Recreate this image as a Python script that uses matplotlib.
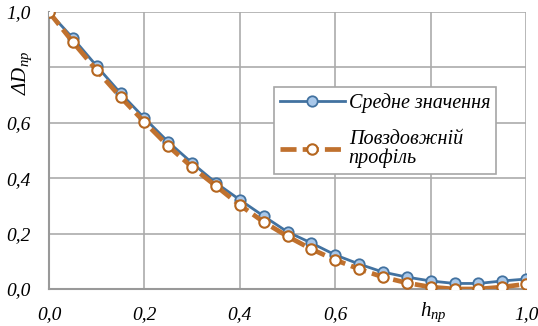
import matplotlib
matplotlib.use('Agg')
import matplotlib.pyplot as plt

h = [0.0, 0.05, 0.1, 0.15, 0.2, 0.25, 0.3, 0.35, 0.4, 0.45, 0.5,
     0.55, 0.6, 0.65, 0.7, 0.75, 0.8, 0.85, 0.9, 0.95, 1.0]
mean_vals = [1.0, 0.906, 0.805, 0.707, 0.617, 0.531, 0.455, 0.383, 0.322, 0.263, 0.206,
             0.166, 0.123, 0.09, 0.061, 0.043, 0.029, 0.02, 0.02, 0.029, 0.036]
profile_vals = [1.0, 0.892, 0.79, 0.693, 0.603, 0.516, 0.44, 0.372, 0.303, 0.242, 0.19,
                0.144, 0.105, 0.072, 0.043, 0.022, 0.007, 0.0, 0.0, 0.007, 0.018]
labels = ['Средне значення', 'Повздовжній\nпрофіль']
xticks = [0.0, 0.2, 0.4, 0.6, 0.8, 1.0]
yticks = [0.0, 0.2, 0.4, 0.6, 0.8, 1.0]

plt.rcParams['font.family'] = ['Liberation Serif', 'DejaVu Serif']
plt.rcParams['mathtext.fontset'] = 'custom'
plt.rcParams['mathtext.it'] = 'Liberation Serif:italic'
plt.rcParams['mathtext.rm'] = 'Liberation Serif:italic'

BLUE = '#4272A0'
BLUE_FACE = '#A9C8EA'
ORANGE = '#C0712E'
GRID = '#ABABAB'

fig = plt.figure(figsize=(5.38, 3.26), dpi=100)
ax = fig.add_axes([0.091, 0.1135, 0.887, 0.8495])

ax.plot(h, mean_vals, color=BLUE, linewidth=2, marker='o', markersize=7.5,
        markerfacecolor=BLUE_FACE, markeredgecolor=BLUE, markeredgewidth=1.3,
        label=labels[0], zorder=3)
ax.plot(h, profile_vals, color=ORANGE, linewidth=3.4, linestyle=(0, (3.4, 1.3)),
        marker='o', markersize=7.5, markerfacecolor='white', markeredgecolor='#B5661F',
        markeredgewidth=1.5, label=labels[1], zorder=4)

ax.set_xlim(0, 1.0)
ax.set_ylim(0, 1.0)
ax.set_xticks(xticks)
ax.set_yticks(yticks)
ax.set_xticklabels(['' if t == 0.8 else f'{t:.1f}'.replace('.', ',') for t in xticks],
                   fontstyle='italic', fontsize=14)
ax.set_yticklabels(['' if t == 0.8 else f'{t:.1f}'.replace('.', ',') for t in yticks],
                   fontstyle='italic', fontsize=14)
ax.tick_params(length=0)
ax.tick_params(axis='y', pad=13)
ax.tick_params(axis='x', pad=12)
ax.grid(True, color=GRID, linewidth=1.2)
ax.set_axisbelow(True)
for side in ['top', 'right']:
    ax.spines[side].set_visible(False)
for side in ['left', 'bottom']:
    ax.spines[side].set_color('#999999')
    ax.spines[side].set_linewidth(1.5)

ax.text(-0.057, 0.78, r'$ΔD_{np}$', transform=ax.transAxes, rotation=90,
        ha='center', va='center', fontsize=15)
ax.text(0.805, -0.085, r'$h_{np}$', transform=ax.transAxes,
        ha='center', va='center', fontsize=15)

leg = ax.legend(loc='upper left', bbox_to_anchor=(0.472, 0.729),
                prop={'style': 'italic', 'size': 14.5}, frameon=True, fancybox=False,
                handlelength=3.2, labelspacing=0.85, borderpad=0.3, handletextpad=0.2,
                borderaxespad=0)
leg.get_frame().set_edgecolor('#A6A6A6')
leg.get_frame().set_linewidth(1.2)
leg.get_frame().set_alpha(1)
for t in leg.get_texts():
    t.set_linespacing(0.95)

fig.savefig('out.png', dpi=100)
